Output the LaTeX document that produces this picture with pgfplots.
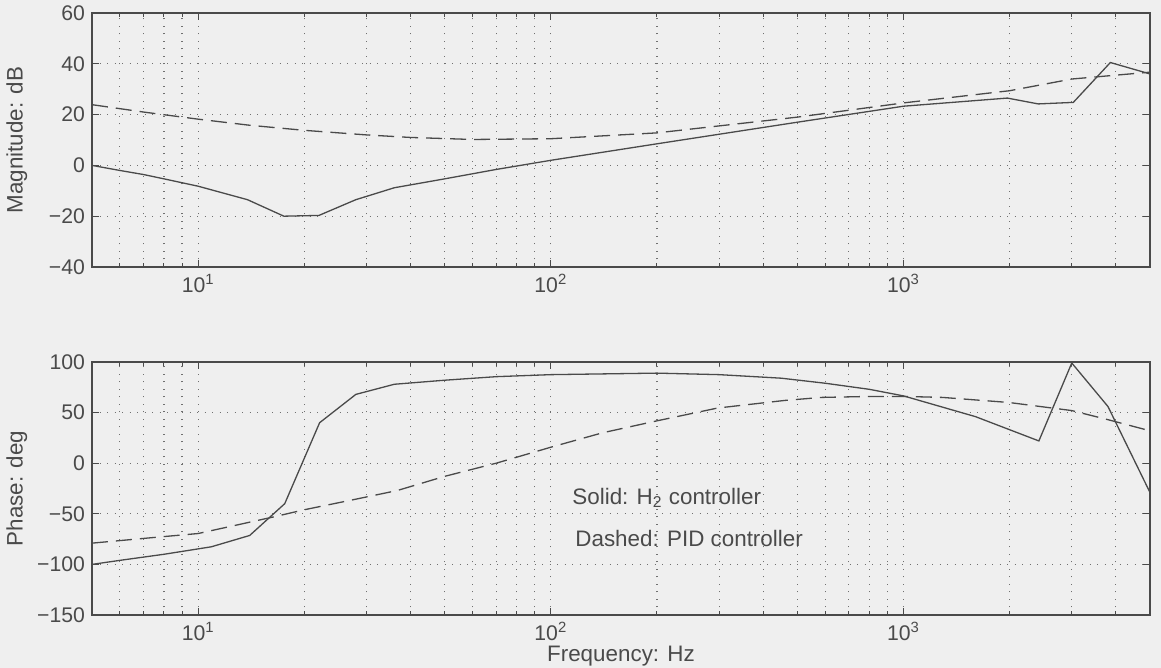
\documentclass[border=0pt]{standalone}
\usepackage{pgfplots}
\pgfplotsset{compat=1.18}
\usepackage{fontspec}
\setmainfont{Liberation Sans}
\definecolor{bg}{HTML}{EFEFEF}
\definecolor{ink}{HTML}{4A4A4A}
\definecolor{gridc}{HTML}{707070}
\newcommand\cf{\fontsize{10.6pt}{12.5pt}\selectfont}
\newcommand\lf{\fontsize{11.2pt}{13pt}\selectfont}

\pgfplotstableread{
f db
5 0
6 -2
7 -3.6
8 -5.3
10 -8.2
13.8 -13.5
17.5 -20
22 -19.7
28 -13.5
36 -8.8
50 -5.3
70 -1.6
100 2
200 8.5
500 17
1000 23.3
1970 26.5
2410 24.2
3030 24.8
3860 40.5
5000 36
}\magsolid

\pgfplotstableread{
f db
5 23.9
7 21
10 18.2
14 15.8
20 13.8
30 12
40 11
60 10.2
100 10.5
200 12.8
500 19
1000 24.6
2000 29.4
3000 34
5000 36.7
}\magdash

\pgfplotstableread{
f ph
5 -100
6 -96
8 -90
10.9 -82.6
14 -71.4
17.6 -40
22.1 40
28 68
36 78
50 82
70 85.5
100 87.5
200 89
300 87.5
450 84
600 79
800 73
1000 66.5
1600 46
2420 22
3000 99
3800 56
5000 -29
}\phsolid

\pgfplotstableread{
f ph
5 -79
8 -72.5
10 -69.5
16.4 -53
20 -46
27.6 -36
36.7 -27
50 -13
70 0
100 15.8
140 30
199 41.7
297 54.5
460 62
585 65
810 66
1000 66
1290 65
1990 60
3000 52
3800 43
5000 32
}\phdash

\begin{document}
\begin{tikzpicture}
\path[use as bounding box, fill=bg] (0,0) rectangle (580.5pt,334pt);
\begin{axis}[
  xmode=log, xmin=5, xmax=5000,
  width=529pt, height=127pt, scale only axis,
  at={(46pt,200.5pt)}, anchor=south west,
  axis line style={ink, line width=0.6pt},
  tick style={ink, line width=0.5pt},
  major tick length=3.5pt, minor tick length=2pt,
  xtick={10,100,1000},
  xticklabels={10\textsuperscript{1},10\textsuperscript{2},10\textsuperscript{3}},
  minor xtick={6,7,8,9,20,30,40,50,60,70,80,90,200,300,400,500,600,700,800,900,2000,3000,4000},
  xmajorgrids, xminorgrids, ymajorgrids,
  major grid style={gridc, line width=0.55pt, dash pattern=on 0.55pt off 3.2pt},
  minor grid style={gridc, line width=0.55pt, dash pattern=on 0.55pt off 3.2pt},
  tick label style={font=\cf, text=ink},
  label style={font=\lf, text=ink},
  ylabel style={at={(axis description cs:-0.071,0.5)}, rotate=0, anchor=center},
  ymin=-40, ymax=60, ytick={-40,-20,0,20,40,60},
  yticklabels={−40,−20,0,20,40,60},
  ylabel={Magnitude: dB}]
\addplot[ink, line width=0.65pt] table[x=f,y=db] {\magsolid};
\addplot[ink, line width=0.65pt, dash pattern=on 8pt off 4pt] table[x=f,y=db] {\magdash};
\end{axis}
\begin{axis}[
  xmode=log, xmin=5, xmax=5000,
  width=529pt, height=126.5pt, scale only axis,
  at={(46pt,26.5pt)}, anchor=south west,
  axis line style={ink, line width=0.6pt},
  tick style={ink, line width=0.5pt},
  major tick length=3.5pt, minor tick length=2pt,
  xtick={10,100,1000},
  xticklabels={10\textsuperscript{1},10\textsuperscript{2},10\textsuperscript{3}},
  minor xtick={6,7,8,9,20,30,40,50,60,70,80,90,200,300,400,500,600,700,800,900,2000,3000,4000},
  xmajorgrids, xminorgrids, ymajorgrids,
  major grid style={gridc, line width=0.55pt, dash pattern=on 0.55pt off 3.2pt},
  minor grid style={gridc, line width=0.55pt, dash pattern=on 0.55pt off 3.2pt},
  tick label style={font=\cf, text=ink},
  label style={font=\lf, text=ink},
  ylabel style={at={(axis description cs:-0.071,0.5)}, rotate=0, anchor=center},
  ymin=-150, ymax=100, ytick={-150,-100,-50,0,50,100},
  yticklabels={−150,−100,−50,0,50,100},
  ylabel={Phase: deg},
  xlabel={Frequency: Hz},
  xlabel style={at={(axis description cs:0.5,-0.163)}, anchor=center}]
\addplot[ink, line width=0.65pt] table[x=f,y=ph] {\phsolid};
\addplot[ink, line width=0.65pt, dash pattern=on 8pt off 4pt] table[x=f,y=ph] {\phdash};
\node[anchor=west, font=\lf, text=ink, inner sep=0pt] at (axis description cs:0.4537,0.462) {Solid: H\textsubscript{2} controller};
\node[anchor=west, font=\lf, text=ink, inner sep=0pt] at (axis description cs:0.4565,0.304) {Dashed: PID controller};
\end{axis}
\end{tikzpicture}
\end{document}
